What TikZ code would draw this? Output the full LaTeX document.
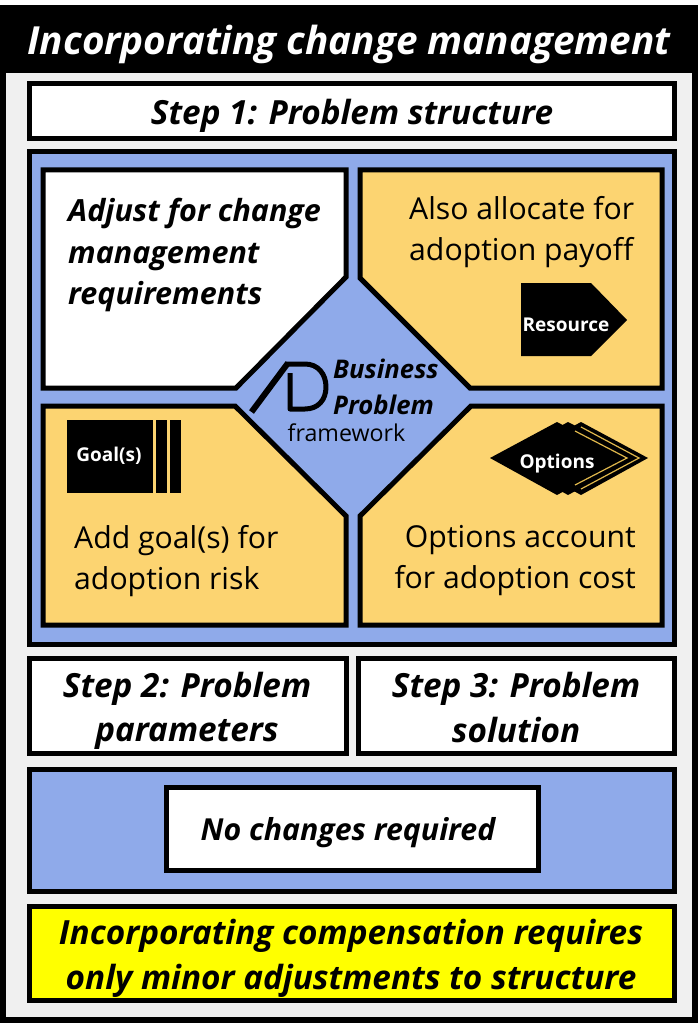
\documentclass[tikz,border=0pt]{standalone}
\usepackage{fontspec}
\setmainfont{Open Sans}
\definecolor{pblue}{HTML}{8FAAEA}
\definecolor{porange}{HTML}{FCD471}
\definecolor{pgold}{HTML}{E0B84C}
\definecolor{pgrey}{HTML}{F0F0F0}
\definecolor{pyellow}{HTML}{FFFF00}
\tikzset{
  x=1pt,y=-1pt,
  frame/.style={draw=black,line width=5pt,miter limit=10,line join=miter},
  whitebox/.style={frame,fill=white},
  bluebox/.style={frame,fill=pblue},
  orangebox/.style={frame,fill=porange},
  hd/.style={font=\fontsize{33.3}{44.5}\selectfont\bfseries\itshape,align=center,inner sep=0pt,text=black},
  body/.style={font=\fontsize{30.2}{41.5}\selectfont,align=left,inner sep=0pt,anchor=north west,text=black},
  tag/.style={font=\fontsize{19}{21}\selectfont\bfseries,text=white,inner sep=0pt},
}
\begin{document}
\begin{tikzpicture}
\useasboundingbox (0,0) rectangle (698,1024);
\fill[white] (0,0) rectangle (698,1024);
% outer frame
\fill[black] (0,5) rectangle (698,1023);
\fill[pgrey] (6,73) rectangle (692,1017);
\node[font=\fontsize{38.7}{44}\selectfont\bfseries\itshape,text=white,inner sep=0pt] (title) at (349,44) {Incorporating change management};
% step 1
\draw[whitebox] (29.5,84) rectangle (674.5,138.5);
\node[hd] (s1) at (352,116) {Step 1: Problem structure};
% blue panel
\draw[bluebox] (29.5,152) rectangle (674.5,644.5);
% quadrants
\draw[whitebox] (43,170) -- (346,170) -- (346,277) -- (236,388) -- (43,388) -- cycle;
\draw[orangebox] (360,170) -- (662,170) -- (662,388) -- (470,388) -- (360,278) -- cycle;
\draw[orangebox] (43,406) -- (235,406) -- (346,516) -- (346,625) -- (43,625) -- cycle;
\draw[orangebox] (662,406) -- (471,406) -- (360,516) -- (360,625) -- (662,625) -- cycle;
% quadrant texts
\node[font=\fontsize{30.5}{41.5}\selectfont\bfseries\itshape,align=left,inner sep=0pt,anchor=north west] (q1) at (68,198) {Adjust for change\\management\\requirements};
\node[body] (q2) at (409,196) {Also allocate for\\adoption payoff};
\node[body] (q3) at (74,525) {Add goal(s) for\\adoption risk};
\node[body,align=right,anchor=north east] (q4) at (636,525) {Options account\\for adoption cost};
% logo
\draw[line width=6pt,line cap=butt] (251.5,412) -- (288,363);
\draw[line width=5pt,line join=round,line cap=butt] (286,364) -- (305,364) .. controls (318,364) and (326,374) .. (326,387) .. controls (326,400) and (318,409) .. (305,409) -- (290,409) -- (290,373);
\node[font=\fontsize{25.7}{36}\selectfont\bfseries\itshape,align=left,inner sep=0pt,anchor=north west] (bp) at (333,359) {Business\\Problem};
\node[font=\fontsize{23.2}{26}\selectfont,inner sep=0pt] (fw) at (346.5,433) {framework};
% resource
\fill[black] (521,283) -- (591,283) -- (627,320) -- (591,356) -- (521,356) -- cycle;
\node[tag] (res) at (566,325) {Resource};
% goal
\fill[black] (67,420) rectangle (153,493);
\fill[black] (155.5,420) rectangle (166.5,493);
\fill[black] (170,420) rectangle (181,493);
\node[tag] (goal) at (109,456) {Goal(s)};
% options
\fill[black] (514,458) -- (581,422) -- (648,458) -- (581,495) -- cycle;
\fill[black] (502,458) -- (568,422) -- (637,458) -- (568,495) -- cycle;
\fill[black] (490,458) -- (557,422) -- (625,458) -- (557,495) -- cycle;
\draw[pgold,line width=1.2pt] (575,431) -- (627,458) -- (575,485);
\draw[pgold,line width=1.2pt] (581,427) -- (639,458) -- (581,489);
\node[tag] (opt) at (557,464) {Options};
% steps 2, 3
\draw[whitebox] (29.5,658.5) rectangle (346.5,753.5);
\node[hd] (s2) at (187,711) {Step 2: Problem\\parameters};
\draw[whitebox] (358.5,658.5) rectangle (674.5,753.5);
\node[hd] (s3) at (516,707.5) {Step 3: Problem\\solution};
% no changes
\draw[bluebox] (29.5,769.5) rectangle (674.5,891.5);
\draw[whitebox] (166.5,787.5) rectangle (538.5,870.5);
\node[font=\fontsize{30.3}{36}\selectfont\bfseries\itshape,inner sep=0pt] (nc) at (348,833) {No changes required};
% yellow
\draw[frame,fill=pyellow] (29.5,906.5) rectangle (674.5,1000.5);
\node[hd] (y) at (351,958.5) {Incorporating compensation requires\\only minor adjustments to structure};
\end{tikzpicture}
\end{document}
